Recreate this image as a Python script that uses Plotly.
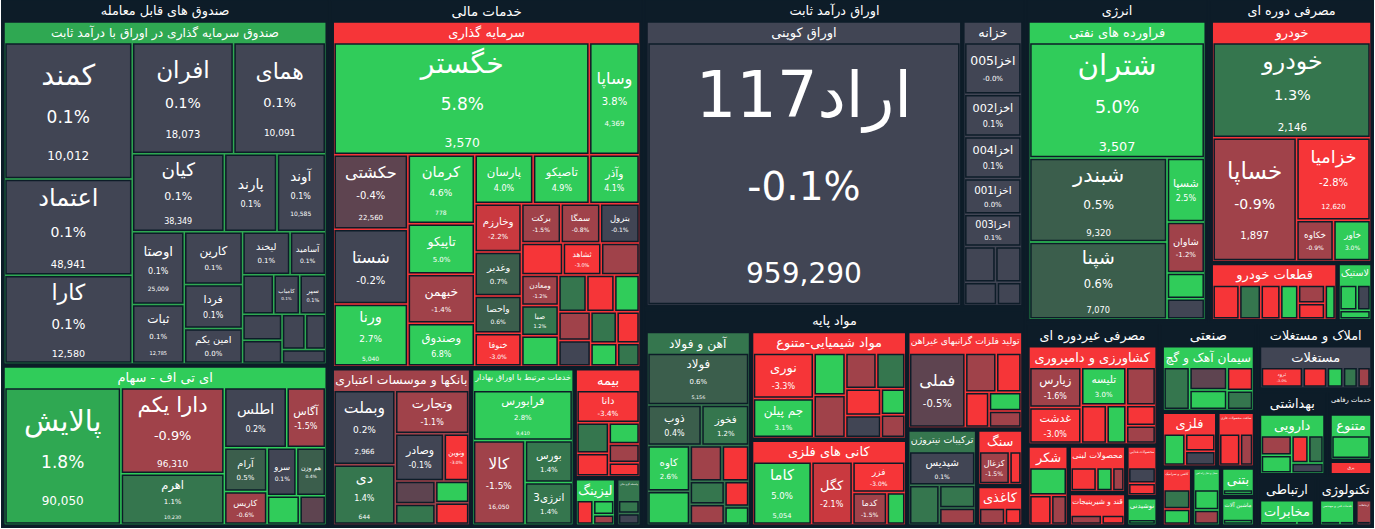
import plotly.graph_objects as go

# ---------------------------------------------------------------
# data (sizes in thousands of px^2, approximate)
SECTORS = ["صندوق های قابل معامله", "خدمات مالی", "اوراق درآمد ثابت", "مواد پایه",
           "انرژی", "مصرفی دوره ای", "مصرفی غیردوره ای", "صنعتی",
           "املاک و مستغلات", "بهداشتی", "خدمات رفاهی", "تکنولوژی", "ارتباطی"]

# (industry, sector, header pct)
INDUSTRIES = [
    ("صندوق سرمایه گذاری در اوراق با درآمد ثابت", "صندوق های قابل معامله", 1.8),
    ("ای تی اف - سهام", "صندوق های قابل معامله", 2.5),
    ("سرمایه گذاری", "خدمات مالی", -3.0),
    ("بانکها و موسسات اعتباری", "خدمات مالی", -1.5),
    ("خدمات مرتبط با اوراق بهادار", "خدمات مالی", 2.5),
    ("بیمه", "خدمات مالی", -3.0),
    ("لیزینگ", "خدمات مالی", 2.5),
    ("واسطه گری مالی", "خدمات مالی", 1.2),
    ("اوراق کوپنی", "اوراق درآمد ثابت", 0.0),
    ("خزانه", "اوراق درآمد ثابت", 0.0),
    ("آهن و فولاد", "مواد پایه", 1.2),
    ("تولید فلزات گرانبهای غیراهن", "مواد پایه", -3.0),
    ("مواد شیمیایی-متنوع", "مواد پایه", -3.0),
    ("کانی های فلزی", "مواد پایه", -3.0),
    ("ترکیبات نیتروژن", "مواد پایه", 1.2),
    ("سنگ", "مواد پایه", -3.0),
    ("کاغذی", "مواد پایه", -3.0),
    ("فراورده های نفتی", "انرژی", 2.5),
    ("خودرو", "مصرفی دوره ای", -3.0),
    ("قطعات خودرو", "مصرفی دوره ای", -3.0),
    ("لاستیک", "مصرفی دوره ای", 2.5),
    ("کشاورزی و دامپروری", "مصرفی غیردوره ای", -3.0),
    ("شکر", "مصرفی غیردوره ای", -3.0),
    ("محصولات لبنی", "مصرفی غیردوره ای", -3.0),
    ("قند و شیرینیجات", "مصرفی غیردوره ای", -3.0),
    ("محصولات غذایی", "مصرفی غیردوره ای", -3.0),
    ("نوشیدنی", "مصرفی غیردوره ای", 2.5),
    ("سیمان آهک و گچ", "صنعتی", 2.5),
    ("فلزی", "صنعتی", -3.0),
    ("ساخت محصولات فلزی", "صنعتی", -3.0),
    ("کاشی و سرامیک", "صنعتی", -3.0),
    ("حمل و نقل راه اهن", "صنعتی", 2.5),
    ("بتنی", "صنعتی", 2.5),
    ("ماشین آلات", "صنعتی", 2.5),
    ("مستغلات", "املاک و مستغلات", 0.0),
    ("دارویی", "بهداشتی", 2.5),
    ("متنوع", "خدمات رفاهی", 2.5),
    ("برق", "خدمات رفاهی", -3.0),
    ("خدمات فنی و مهندسی", "تکنولوژی", 2.5),
    ("ارتباطات", "تکنولوژی", -1.5),
    ("مخابرات", "ارتباطی", 2.5),
]

# (industry, ticker, size, pct, value)
STOCKS = [
    ("صندوق سرمایه گذاری در اوراق با درآمد ثابت", "کمند", 17, 0.1, "10,012"),
    ("صندوق سرمایه گذاری در اوراق با درآمد ثابت", "اعتماد", 12, 0.1, "48,941"),
    ("صندوق سرمایه گذاری در اوراق با درآمد ثابت", "کارا", 11, 0.1, "12,580"),
    ("صندوق سرمایه گذاری در اوراق با درآمد ثابت", "افران", 11, 0.1, "18,073"),
    ("صندوق سرمایه گذاری در اوراق با درآمد ثابت", "همای", 10, 0.1, "10,091"),
    ("صندوق سرمایه گذاری در اوراق با درآمد ثابت", "کیان", 7, 0.1, "38,349"),
    ("صندوق سرمایه گذاری در اوراق با درآمد ثابت", "پارند", 4, 0.1, None),
    ("صندوق سرمایه گذاری در اوراق با درآمد ثابت", "آوند", 3.7, 0.1, "10,585"),
    ("صندوق سرمایه گذاری در اوراق با درآمد ثابت", "اوصتا", 3.7, 0.1, "25,009"),
    ("صندوق سرمایه گذاری در اوراق با درآمد ثابت", "ثبات", 3, 0.1, "12,785"),
    ("صندوق سرمایه گذاری در اوراق با درآمد ثابت", "کارین", 3, 0.1, None),
    ("صندوق سرمایه گذاری در اوراق با درآمد ثابت", "فردا", 2.5, 0.1, None),
    ("صندوق سرمایه گذاری در اوراق با درآمد ثابت", "امین یکم", 2, 0.0, None),
    ("صندوق سرمایه گذاری در اوراق با درآمد ثابت", "لیخند", 2, 0.1, None),
    ("صندوق سرمایه گذاری در اوراق با درآمد ثابت", "آسامید", 1.5, 0.1, None),
    ("صندوق سرمایه گذاری در اوراق با درآمد ثابت", "کامیاب", 1, 0.1, None),
    ("صندوق سرمایه گذاری در اوراق با درآمد ثابت", "سپر", 1, 0.1, None),
    ("صندوق سرمایه گذاری در اوراق با درآمد ثابت", "", 1.2, 0.1, None),
    ("صندوق سرمایه گذاری در اوراق با درآمد ثابت", "", 1.0, 0.1, None),
    ("صندوق سرمایه گذاری در اوراق با درآمد ثابت", "", 0.9, 0.1, None),
    ("صندوق سرمایه گذاری در اوراق با درآمد ثابت", "", 0.8, 0.1, None),
    ("صندوق سرمایه گذاری در اوراق با درآمد ثابت", "", 0.7, 0.1, None),
    ("صندوق سرمایه گذاری در اوراق با درآمد ثابت", "", 0.6, 0.1, None),
    ("ای تی اف - سهام", "پالایش", 17, 1.8, "90,050"),
    ("ای تی اف - سهام", "دارا یکم", 9.5, -0.9, "96,310"),
    ("ای تی اف - سهام", "اهرم", 5.6, 1.1, "10,230"),
    ("ای تی اف - سهام", "اطلس", 4, 0.2, None),
    ("ای تی اف - سهام", "آگاس", 2.5, -1.5, None),
    ("ای تی اف - سهام", "آرام", 2, 0.5, None),
    ("ای تی اف - سهام", "کاریس", 1.5, -0.6, None),
    ("ای تی اف - سهام", "سرو", 1.5, 0.1, None),
    ("ای تی اف - سهام", "هم وزن", 1.5, 0.4, None),
    ("ای تی اف - سهام", "", 1.0, 2.2, None),
    ("ای تی اف - سهام", "", 0.8, -0.5, None),
    ("سرمایه گذاری", "خگستر", 28, 5.8, "3,570"),
    ("سرمایه گذاری", "وساپا", 5.5, 3.8, "4,369"),
    ("سرمایه گذاری", "حکشتی", 5.4, -0.4, "22,560"),
    ("سرمایه گذاری", "شستا", 5.4, -0.2, None),
    ("سرمایه گذاری", "ورنا", 4.5, 2.7, "5,040"),
    ("سرمایه گذاری", "کرمان", 4.5, 4.6, "778"),
    ("سرمایه گذاری", "تاپیکو", 3.3, 5.0, None),
    ("سرمایه گذاری", "خبهمن", 3.2, -1.4, None),
    ("سرمایه گذاری", "وصندوق", 2.8, 6.8, None),
    ("سرمایه گذاری", "پارسان", 2.8, 4.0, None),
    ("سرمایه گذاری", "تاصیکو", 2.7, 4.9, None),
    ("سرمایه گذاری", "وآذر", 2.4, 4.1, None),
    ("سرمایه گذاری", "وخارزم", 2.2, -2.2, None),
    ("سرمایه گذاری", "وغدیر", 2, 0.7, None),
    ("سرمایه گذاری", "واحصا", 1.7, 0.6, None),
    ("سرمایه گذاری", "خنوفا", 1.5, -3.0, None),
    ("سرمایه گذاری", "برکت", 1.5, -1.5, None),
    ("سرمایه گذاری", "سمگا", 1.5, -0.8, None),
    ("سرمایه گذاری", "بترول", 1.5, -0.1, None),
    ("سرمایه گذاری", "ثشاهد", 1.2, -3.0, None),
    ("سرمایه گذاری", "ومعادن", 1.1, -1.2, None),
    ("سرمایه گذاری", "صبا", 1.1, 1.2, None),
    ("سرمایه گذاری", "", 1.3, -3.0, None),
    ("سرمایه گذاری", "", 1.2, -1.6, None),
    ("سرمایه گذاری", "", 1.1, 3.0, None),
    ("سرمایه گذاری", "", 1.0, 0.8, None),
    ("سرمایه گذاری", "", 1.0, -3.0, None),
    ("سرمایه گذاری", "", 0.9, 2.5, None),
    ("سرمایه گذاری", "", 0.9, -1.2, None),
    ("سرمایه گذاری", "", 0.8, -0.2, None),
    ("سرمایه گذاری", "", 0.8, 1.2, None),
    ("سرمایه گذاری", "", 0.7, -3.0, None),
    ("سرمایه گذاری", "", 0.6, 3.0, None),
    ("سرمایه گذاری", "", 0.5, 1.3, None),
    ("بانکها و موسسات اعتباری", "وبملت", 5, 0.2, "2,966"),
    ("بانکها و موسسات اعتباری", "دی", 4, 1.4, "644"),
    ("بانکها و موسسات اعتباری", "وتجارت", 3.5, -1.1, None),
    ("بانکها و موسسات اعتباری", "وصادر", 2.5, -0.1, None),
    ("بانکها و موسسات اعتباری", "ونوین", 1.3, -3.0, None),
    ("بانکها و موسسات اعتباری", "", 1.0, -0.5, None),
    ("بانکها و موسسات اعتباری", "", 0.9, 1.0, None),
    ("بانکها و موسسات اعتباری", "", 0.8, 3.0, None),
    ("بانکها و موسسات اعتباری", "", 0.8, -3.0, None),
    ("خدمات مرتبط با اوراق بهادار", "فرابورس", 5.5, 2.8, "9,410"),
    ("خدمات مرتبط با اوراق بهادار", "کالا", 4.8, -1.5, "16,050"),
    ("خدمات مرتبط با اوراق بهادار", "بورس", 2.2, 1.4, None),
    ("خدمات مرتبط با اوراق بهادار", "انرژی3", 2.2, 1.4, None),
    ("بیمه", "دانا", 2.5, -3.4, None),
    ("بیمه", "", 1.2, 0.8, None),
    ("بیمه", "", 0.9, -3.0, None),
    ("بیمه", "", 0.8, 3.0, None),
    ("بیمه", "", 0.7, -1.2, None),
    ("بیمه", "", 0.5, -3.0, None),
    ("لیزینگ", "", 0.8, -3.0, None),
    ("لیزینگ", "", 0.6, 3.0, None),
    ("لیزینگ", "", 0.4, -1.5, None),
    ("واسطه گری مالی", "", 0.6, 0.8, None),
    ("واسطه گری مالی", "", 0.5, -0.1, None),
    ("اوراق کوپنی", "اراد117", 84, -0.1, "959,290"),
    ("خزانه", "اخزا005", 3.2, -0.0, None),
    ("خزانه", "اخزا002", 2.6, 0.1, None),
    ("خزانه", "اخزا004", 2.6, 0.1, None),
    ("خزانه", "اخزا001", 2.2, 0.0, None),
    ("خزانه", "اخزا003", 2.0, 0.1, None),
    ("خزانه", "", 1.2, 0.1, None),
    ("خزانه", "", 1.0, 0.0, None),
    ("خزانه", "", 0.8, 0.1, None),
    ("خزانه", "", 0.6, 0.0, None),
    ("آهن و فولاد", "فولاد", 6.0, 0.6, "5,156"),
    ("آهن و فولاد", "ذوب", 2.5, 0.4, None),
    ("آهن و فولاد", "فخوز", 2.2, 1.2, None),
    ("آهن و فولاد", "کاوه", 2.2, 2.6, None),
    ("آهن و فولاد", "", 1.6, 3.0, None),
    ("آهن و فولاد", "", 1.3, -1.6, None),
    ("آهن و فولاد", "", 1.1, -3.0, None),
    ("آهن و فولاد", "", 0.9, 0.8, None),
    ("آهن و فولاد", "", 0.8, -1.5, None),
    ("آهن و فولاد", "", 0.7, -3.0, None),
    ("آهن و فولاد", "", 0.5, 3.0, None),
    ("تولید فلزات گرانبهای غیراهن", "فملی", 5.5, -0.5, None),
    ("تولید فلزات گرانبهای غیراهن", "", 1.6, -1.6, None),
    ("تولید فلزات گرانبهای غیراهن", "", 1.3, -3.0, None),
    ("تولید فلزات گرانبهای غیراهن", "", 1.1, -3.0, None),
    ("تولید فلزات گرانبهای غیراهن", "", 0.8, 3.0, None),
    ("تولید فلزات گرانبهای غیراهن", "", 0.7, -1.5, None),
    ("مواد شیمیایی-متنوع", "نوری", 3.5, -3.3, None),
    ("مواد شیمیایی-متنوع", "جم پیلن", 3.0, 3.1, None),
    ("مواد شیمیایی-متنوع", "", 1.7, 3.0, None),
    ("مواد شیمیایی-متنوع", "", 1.7, -1.6, None),
    ("مواد شیمیایی-متنوع", "", 1.4, -1.2, None),
    ("مواد شیمیایی-متنوع", "", 1.3, 0.8, None),
    ("مواد شیمیایی-متنوع", "", 1.2, -3.0, None),
    ("مواد شیمیایی-متنوع", "", 1.0, -0.1, None),
    ("مواد شیمیایی-متنوع", "", 0.8, 3.0, None),
    ("مواد شیمیایی-متنوع", "", 0.7, -1.5, None),
    ("کانی های فلزی", "کاما", 5.0, 5.0, "5,054"),
    ("کانی های فلزی", "کگل", 3.5, -2.1, None),
    ("کانی های فلزی", "فزر", 2.2, -3.0, None),
    ("کانی های فلزی", "کدما", 1.5, -1.5, None),
    ("کانی های فلزی", "", 0.8, 3.0, None),
    ("ترکیبات نیتروژن", "شپدیس", 3.0, 0.1, None),
    ("ترکیبات نیتروژن", "", 1.6, 0.9, None),
    ("ترکیبات نیتروژن", "", 1.1, 1.5, None),
    ("ترکیبات نیتروژن", "", 0.8, -1.2, None),
    ("سنگ", "کزغال", 1.8, -1.5, None),
    ("سنگ", "", 0.7, -3.0, None),
    ("کاغذی", "", 1.1, -1.5, None),
    ("کاغذی", "", 0.7, -3.0, None),
    ("فراورده های نفتی", "شتران", 21, 5.0, "3,507"),
    ("فراورده های نفتی", "شبندر", 12, 0.5, "9,320"),
    ("فراورده های نفتی", "شپنا", 11, 0.6, "7,070"),
    ("فراورده های نفتی", "شسپا", 2.5, 2.5, None),
    ("فراورده های نفتی", "شاوان", 2, -1.2, None),
    ("فراورده های نفتی", "", 1.0, 3.0, None),
    ("فراورده های نفتی", "", 0.8, -0.2, None),
    ("خودرو", "خودرو", 16, 1.3, "2,146"),
    ("خودرو", "خساپا", 11, -0.9, "1,897"),
    ("خودرو", "خزامیا", 6.5, -2.8, "12,620"),
    ("خودرو", "خکاوه", 1.6, -0.9, None),
    ("خودرو", "خاور", 1.6, 3.0, None),
    ("قطعات خودرو", "", 1.5, -3.0, None),
    ("قطعات خودرو", "", 1.2, 0.8, None),
    ("قطعات خودرو", "", 1.1, -3.0, None),
    ("قطعات خودرو", "", 1.0, 3.0, None),
    ("قطعات خودرو", "", 0.8, -1.5, None),
    ("قطعات خودرو", "", 0.7, -3.0, None),
    ("قطعات خودرو", "", 0.6, 3.0, None),
    ("لاستیک", "", 0.8, 3.0, None),
    ("لاستیک", "", 0.6, -0.2, None),
    ("لاستیک", "", 0.5, 3.0, None),
    ("کشاورزی و دامپروری", "زیارس", 2.8, -1.6, None),
    ("کشاورزی و دامپروری", "غدشت", 2.5, -3.0, None),
    ("کشاورزی و دامپروری", "تلیسه", 2.3, 3.0, None),
    ("کشاورزی و دامپروری", "", 1.5, -1.5, None),
    ("کشاورزی و دامپروری", "", 1.3, -3.0, None),
    ("کشاورزی و دامپروری", "", 1.0, 2.5, None),
    ("کشاورزی و دامپروری", "", 0.8, -3.0, None),
    ("کشاورزی و دامپروری", "", 0.7, -1.5, None),
    ("شکر", "", 1.6, 3.0, None),
    ("شکر", "", 1.0, -3.0, None),
    ("شکر", "", 0.7, -1.5, None),
    ("محصولات لبنی", "", 1.3, -3.0, None),
    ("محصولات لبنی", "", 0.8, 3.0, None),
    ("محصولات لبنی", "", 0.6, -1.5, None),
    ("قند و شیرینیجات", "", 1.1, -1.5, None),
    ("قند و شیرینیجات", "", 0.8, -3.0, None),
    ("محصولات غذایی", "", 0.9, -0.1, None),
    ("محصولات غذایی", "", 0.7, -3.0, None),
    ("نوشیدنی", "", 0.9, 3.0, None),
    ("سیمان آهک و گچ", "", 1.8, 1.2, None),
    ("سیمان آهک و گچ", "", 1.4, -0.5, None),
    ("سیمان آهک و گچ", "", 1.2, 3.0, None),
    ("سیمان آهک و گچ", "", 1.0, -3.0, None),
    ("سیمان آهک و گچ", "", 0.8, 0.9, None),
    ("فلزی", "", 1.3, 3.0, None),
    ("فلزی", "", 1.0, -3.0, None),
    ("فلزی", "", 0.8, -0.1, None),
    ("ساخت محصولات فلزی", "", 1.3, -3.0, None),
    ("ساخت محصولات فلزی", "", 0.8, -1.5, None),
    ("کاشی و سرامیک", "", 1.0, 1.2, None),
    ("کاشی و سرامیک", "", 0.8, 3.0, None),
    ("حمل و نقل راه اهن", "", 1.0, 3.0, None),
    ("حمل و نقل راه اهن", "", 0.7, -1.5, None),
    ("بتنی", "", 1.0, 3.0, None),
    ("ماشین آلات", "", 1.0, 3.0, None),
    ("مستغلات", "ثرود", 2.6, -3.0, None),
    ("مستغلات", "", 1.5, -3.0, None),
    ("مستغلات", "", 1.0, 3.0, None),
    ("مستغلات", "", 0.9, 1.2, None),
    ("مستغلات", "", 0.8, -1.5, None),
    ("دارویی", "", 1.3, -1.5, None),
    ("دارویی", "", 1.2, 3.0, None),
    ("دارویی", "", 1.0, -3.0, None),
    ("دارویی", "", 0.9, 1.2, None),
    ("دارویی", "", 0.7, -0.1, None),
    ("متنوع", "", 2.6, 3.0, None),
    ("برق", "", 0.8, -3.0, None),
    ("خدمات فنی و مهندسی", "", 1.0, -3.0, None),
    ("خدمات فنی و مهندسی", "", 0.7, 3.0, None),
    ("ارتباطات", "", 0.8, -1.5, None),
    ("مخابرات", "", 1.8, 3.0, None),
    ("مخابرات", "", 0.8, 1.2, None),
]

BG = "#0d1c28"
TOP_CUT = 22  # height of plotly's hidden root header band, pushed off-screen


def pct_color(p):
    a = abs(p)
    if a < 0.3:
        return "#414554"
    if p > 0:
        if a < 0.8:
            return "#3b5e4c"
        if a < 1.6:
            return "#35764e"
        if a < 2.0:
            return "#2fa852"
        return "#30cc5a"
    if a < 0.6:
        return "#5e4450"
    if a < 1.8:
        return "#a0424a"
    if a < 2.5:
        return "#c9393f"
    return "#f63538"


ids, labels, parents, values, colors, texts, sizes = [], [], [], [], [], [], []

for s in SECTORS:
    ids.append(s); labels.append(s); parents.append(""); values.append(0)
    colors.append(BG); texts.append("<b>%s</b>" % s); sizes.append(16)

for ind, sec, p in INDUSTRIES:
    ids.append(sec + "/" + ind); labels.append(ind); parents.append(sec)
    values.append(0); colors.append(pct_color(p))
    texts.append(ind); sizes.append(13)

ind_sector = {ind: sec for ind, sec, _ in INDUSTRIES}
for k, (ind, name, size, p, val) in enumerate(STOCKS):
    pid = ind_sector[ind] + "/" + ind
    ids.append(pid + "/" + (name or str(k)))
    labels.append(name or " ")
    parents.append(pid)
    values.append(size)
    colors.append(pct_color(p))
    side = (size * 1000) ** 0.5
    fs = max(6, min(66, 0.22 * side))
    if not name:
        texts.append("")
    elif size >= 3:
        t = "%s<br><span style='font-size:%dpx'>%.1f%%</span>" % (name, fs * 0.62, p)
        if val:
            t += "<br><span style='font-size:%dpx'>%s</span>" % (fs * 0.45, val)
        texts.append(t)
    else:
        texts.append("%s<br><span style='font-size:%dpx'>%.1f%%</span>" % (name, fs * 0.75, p))
    sizes.append(fs)

fig = go.Figure(go.Treemap(
    ids=ids, labels=labels, parents=parents, values=values,
    branchvalues="remainder",
    text=texts, texttemplate="%{text}",
    textposition="middle center",
    textfont=dict(family="DejaVu Sans", color="white", size=sizes),
    marker=dict(colors=colors, line=dict(color=BG, width=1.5),
                pad=dict(t=22, l=2, r=2, b=2)),
    pathbar=dict(visible=False),
    hoverinfo="label",
    sort=True,
))

fig.update_layout(
    width=1375, height=529 + TOP_CUT,
    margin=dict(l=0, r=0, t=0, b=0),
    paper_bgcolor=BG,
    font=dict(family="DejaVu Sans", color="white"),
)

# drop the page's default body margin and hide the empty root band
fig.write_html("out.html",
               config={"displayModeBar": False},
               post_script="document.body.style.margin='0';"
                           "document.body.style.overflow='hidden';"
                           "document.body.style.background='%s';"
                           "document.querySelector('.plotly-graph-div').style.marginTop='-%dpx';"
                           % (BG, TOP_CUT))
